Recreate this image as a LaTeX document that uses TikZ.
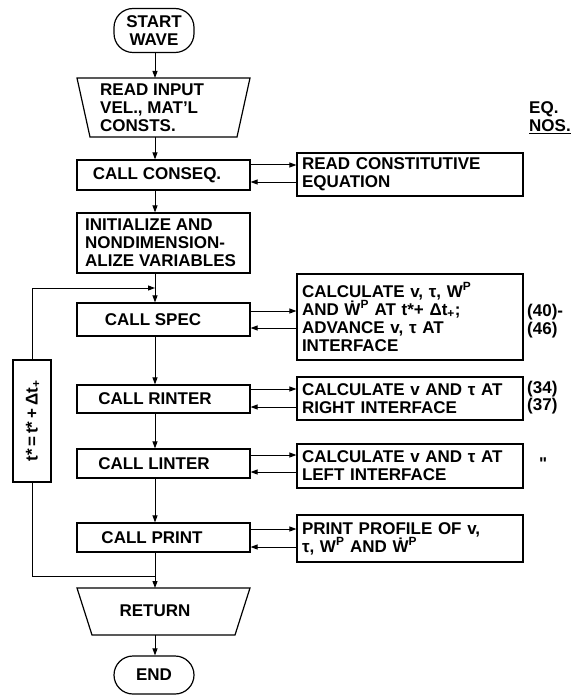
\documentclass[tikz,border=0pt]{standalone}
\usepackage{fontspec}
\setmainfont{Liberation Sans}
\usetikzlibrary{arrows.meta,calc}
\newcommand\fs{\fontsize{17}{18}\selectfont\bfseries}
\newcommand\Pp{\textsuperscript{P}}
\begin{document}
\begin{tikzpicture}[x=1pt,y=-1pt,
  box/.style={draw, line width=1.2pt, minimum width=173pt, inner sep=0pt},
  txt/.style={font=\fs, align=left, inner sep=0pt},
  rbox/.style={draw, line width=1.2pt, minimum width=226pt, text width=216pt,
     inner xsep=5pt, inner ysep=0pt, align=left, font=\fs},
  term/.style={draw, line width=1.2pt, minimum width=80pt, rounded corners=19pt,
     inner sep=0pt, align=center, font=\fs},
  num/.style={font=\fs, inner sep=0pt, anchor=west},
  arr/.style={-{Triangle[length=7pt,width=5pt]}, line width=1pt},
  ln/.style={line width=1pt}]
\useasboundingbox (0,0) rectangle (576,695);
% terminals
\node[term, minimum height=44pt] (start) at (154,30.5) {START\\WAVE};
\node[term, minimum height=38pt] (end) at (154,675) {END};
% READ INPUT trapezoid
\coordinate (readtop) at (155,78);
\coordinate (readbot) at (155,137);
\draw[line width=1.2pt] (77,78) -- (250,78) -- (237,137) -- (90,137) -- cycle;
\node[txt, anchor=west] (readtxt) at (100,107.5) {READ INPUT\\VEL., MAT'L\\CONSTS.};
% RETURN trapezoid
\coordinate (rettop) at (155,588);
\coordinate (retbot) at (155,635);
\draw[line width=1.2pt] (77,588) -- (250,588) -- (235,635) -- (92,635) -- cycle;
\node[txt] (rettxt) at (155,611) {RETURN};
% left boxes
\node[box, minimum height=30pt] (conseq) at (163.5,175) {};
\node[txt] (conseqtxt) at (157,175) {CALL CONSEQ.};
\node[box, minimum height=60pt] (init) at (163.5,243) {};
\node[txt, anchor=west] (inittxt) at (85,243) {INITIALIZE AND\\NONDIMENSION-\\ALIZE VARIABLES};
\node[box, minimum height=33pt] (spec) at (163.5,319.5) {};
\node[txt] (spectxt) at (153,319.5) {CALL SPEC};
\node[box, minimum height=28pt] (rinter) at (163.5,399) {};
\node[txt] (rintertxt) at (155,399) {CALL RINTER};
\node[box, minimum height=29pt] (linter) at (163.5,463.5) {};
\node[txt] (lintertxt) at (154,463.5) {CALL LINTER};
\node[box, minimum height=29pt] (print) at (163.5,537.5) {};
\node[txt] (printtxt) at (152,537.5) {CALL PRINT};
% right boxes
\node[rbox, minimum height=43pt] (rconst) at (410,174.5) {READ CONSTITUTIVE\\EQUATION};
\node[rbox, minimum height=86pt] (rspec) at (410,317) {CALCULATE v, τ, W\Pp\\AND Ẇ\Pp{} AT t*+ Δt\textsubscript{+};\\ADVANCE v, τ AT\\INTERFACE};
\node[rbox, minimum height=43pt] (rrinter) at (410,398.5) {CALCULATE v AND τ AT\\RIGHT INTERFACE};
\node[rbox, minimum height=44pt] (rlinter) at (410,466) {CALCULATE v AND τ AT\\LEFT INTERFACE};
\node[rbox, minimum height=47pt] (rprint) at (410,538.5) {PRINT PROFILE OF v,\\τ, W\Pp{} AND Ẇ\Pp};
% loop box
\node[draw, line width=1.2pt, minimum width=38pt, minimum height=122pt, inner sep=0pt] (loopbox) at (32,421) {};
\node[font=\fs, rotate=90, inner sep=0pt] (looptxt) at (33,421) {t*\,=\,t*\,+\,Δt\textsubscript{+}};
% numbers
\node[font=\fs, inner sep=0pt, anchor=west, align=left] (eq) at (529,118) {EQ.\\\underline{NOS.}};
\node[num] (n40) at (527,312) {(40)-};
\node[num] (n46) at (527,330) {(46)};
\node[num] (n34) at (527,389) {(34)};
\node[num] (n37) at (527,406) {(37)};
\node[num] (ditto) at (539,464) {\textquotedbl};
% vertical flow
\coordinate (jtop) at (155,288);
\coordinate (jbot) at (155,576);
\draw[arr] (start.south -| readtop) -- (readtop);
\draw[arr] (readbot) -- (readbot |- conseq.north);
\draw[arr] (readbot |- conseq.south) -- (readbot |- init.north);
\draw[arr] (readbot |- init.south) -- (readbot |- spec.north);
\draw[arr] (readbot |- spec.south) -- (readbot |- rinter.north);
\draw[arr] (readbot |- rinter.south) -- (readbot |- linter.north);
\draw[arr] (readbot |- linter.south) -- (readbot |- print.north);
\draw[arr] (readbot |- print.south) -- (rettop);
\draw[arr] (retbot) -- (retbot |- end.north);
% loop
\draw[ln] (jbot) -| (loopbox.south);
\draw[arr] (loopbox.north) |- (jtop);
% side connectors
\draw[arr] ([yshift=10pt]conseq.east) -- ([yshift=10pt]conseq.east -| rconst.west);
\draw[arr] ([yshift=-7pt]conseq.east -| rconst.west) -- ([yshift=-7pt]conseq.east);
\draw[arr] ([yshift=8.5pt]spec.east) -- ([yshift=8.5pt]spec.east -| rspec.west);
\draw[arr] ([yshift=-8.5pt]spec.east -| rspec.west) -- ([yshift=-8.5pt]spec.east);
\draw[arr] ([yshift=10pt]rinter.east) -- ([yshift=10pt]rinter.east -| rrinter.west);
\draw[arr] ([yshift=-8pt]rinter.east -| rrinter.west) -- ([yshift=-8pt]rinter.east);
\draw[arr] ([yshift=8.5pt]linter.east) -- ([yshift=8.5pt]linter.east -| rlinter.west);
\draw[arr] ([yshift=-8.5pt]linter.east -| rlinter.west) -- ([yshift=-8.5pt]linter.east);
\draw[arr] ([yshift=8.5pt]print.east) -- ([yshift=8.5pt]print.east -| rprint.west);
\draw[arr] ([yshift=-9.5pt]print.east -| rprint.west) -- ([yshift=-9.5pt]print.east);
\end{tikzpicture}
\end{document}
